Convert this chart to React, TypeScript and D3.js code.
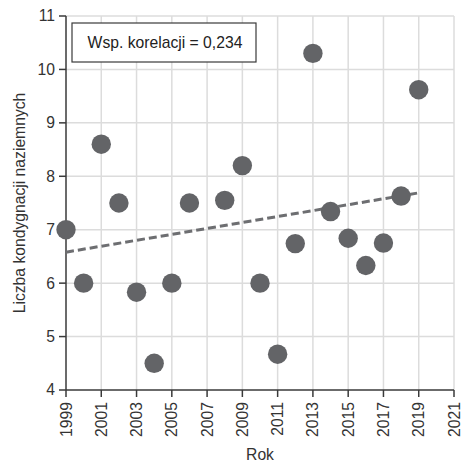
import React from "react";
import * as d3 from "d3";

const YEARS = [1999, 2000, 2001, 2002, 2003, 2004, 2005, 2006, 2008, 2009, 2010, 2011, 2012, 2013, 2014, 2015, 2016, 2017, 2018, 2019];
const FLOORS = [7.0, 6.0, 8.6, 7.5, 5.83, 4.5, 6.0, 7.5, 7.55, 8.2, 6.0, 4.67, 6.74, 10.3, 7.34, 6.84, 6.33, 6.75, 7.63, 9.62];
const TREND_YEARS = [1999, 2019];
const TREND_VALUES = [6.58, 7.69];
const X_TICKS = [1999, 2001, 2003, 2005, 2007, 2009, 2011, 2013, 2015, 2017, 2019, 2021];
const Y_TICKS = [4, 5, 6, 7, 8, 9, 10, 11];
const CORR_LABEL = "Wsp. korelacji = 0,234";

const W = 462;
const H = 462;
const FONT = "'Liberation Sans', Arial, sans-serif";
const FS = 15.7;

const App = () => {
  const x = d3.scaleLinear().domain([1999, 2021]).range([66, 454]);
  const y = d3.scaleLinear().domain([4, 11]).range([390, 16]);
  const line = d3
    .line<number>()
    .x((d) => x(d))
    .y((_, i) => y(TREND_VALUES[i]));

  return (
    <svg
      width={W}
      height={H}
      style={{ position: "absolute", left: 0, top: 0, background: "#fff" }}
      fontFamily={FONT}
    >
      {/* grid */}
      <g stroke="#dcdcdc" strokeWidth={1.5}>
        {X_TICKS.slice(1).map((t) => (
          <line key={"gx" + t} x1={x(t)} x2={x(t)} y1={y(11)} y2={y(4)} />
        ))}
        {Y_TICKS.slice(1).map((t) => (
          <line key={"gy" + t} x1={x(1999)} x2={x(2021)} y1={y(t)} y2={y(t)} />
        ))}
      </g>

      {/* axes */}
      <g stroke="#3a3a3a" strokeWidth={1.5}>
        <line x1={x(1999)} x2={x(1999)} y1={y(11)} y2={y(4)} />
        <line x1={x(1999)} x2={x(2021)} y1={y(4)} y2={y(4)} />
        {Y_TICKS.map((t) => (
          <line key={"ty" + t} x1={x(1999) - 7} x2={x(1999)} y1={y(t)} y2={y(t)} />
        ))}
        {X_TICKS.map((t) => (
          <line key={"tx" + t} x1={x(t)} x2={x(t)} y1={y(4)} y2={y(4) + 7} />
        ))}
      </g>

      <g fill="#333" fontSize={FS}>
        {Y_TICKS.map((t) => (
          <text key={"ly" + t} x={x(1999) - 11} y={y(t)} dy="0.35em" textAnchor="end">
            {t}
          </text>
        ))}
        {X_TICKS.map((t) => (
          <text
            key={"lx" + t}
            transform={`translate(${x(t)},${y(4) + 12}) rotate(-90)`}
            dy="0.35em"
            textAnchor="end"
          >
            {t}
          </text>
        ))}
        <text x={260} y={460} textAnchor="middle">
          Rok
        </text>
        <text
          transform={`translate(25,${(y(4) + y(11)) / 2}) rotate(-90)`}
          textAnchor="middle"
        >
          Liczba kondygnacji naziemnych
        </text>
      </g>

      {/* trend */}
      <path
        d={line(TREND_YEARS) ?? ""}
        fill="none"
        stroke="#6d6e71"
        strokeWidth={3}
        strokeDasharray="8,4"
      />

      {/* points */}
      <g fill="#636467">
        {YEARS.map((yr, i) => (
          <circle key={yr} cx={x(yr)} cy={y(FLOORS[i])} r={9.7} />
        ))}
      </g>

      {/* correlation box */}
      <rect x={72} y={23} width={184} height={39} fill="#fff" stroke="#3a3a3a" strokeWidth={1.2} />
      <text x={165} y={43} dy="0.35em" textAnchor="middle" fontSize={FS} fill="#222">
        {CORR_LABEL}
      </text>
    </svg>
  );
};

export default App;
